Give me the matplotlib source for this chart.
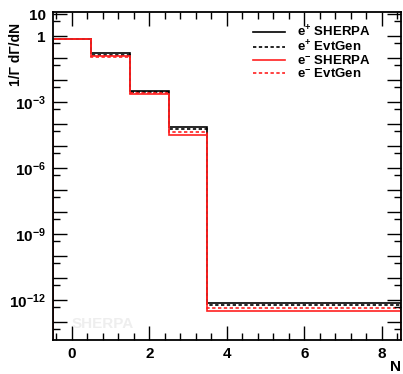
import numpy as np
import matplotlib; matplotlib.use("Agg")
import matplotlib.pyplot as plt
from matplotlib.ticker import FixedLocator, FixedFormatter, NullFormatter

plt.rcParams.update({"font.family": "Liberation Sans", "font.weight": "bold",
                     "mathtext.fontset": "custom",
                     "mathtext.rm": "Liberation Sans:bold",
                     "mathtext.bf": "Liberation Sans:bold",
                     "mathtext.it": "Liberation Sans:bold"})

edges = [-0.5, 0.5, 1.5, 2.5, 3.5, 4.5, 5.5, 6.5, 7.5, 8.5]
ep_sherpa = [0.78, 0.17, 3.3e-3, 7.2e-5, 7.6e-13, 7.6e-13, 7.6e-13, 7.6e-13, 7.6e-13]
ep_evtgen = [0.76, 0.14, 2.9e-3, 5.8e-5, 6.1e-13, 6.1e-13, 6.1e-13, 6.1e-13, 6.1e-13]
em_sherpa = [0.74, 0.12, 2.4e-3, 3.2e-5, 3.3e-13, 3.3e-13, 3.3e-13, 3.3e-13, 3.3e-13]
em_evtgen = [0.75, 0.11, 2.5e-3, 4.3e-5, 4.5e-13, 4.5e-13, 4.5e-13, 4.5e-13, 4.5e-13]
labels = [r"e$^{+}$ SHERPA", r"e$^{+}$ EvtGen", r"e$^{-}$ SHERPA", r"e$^{-}$ EvtGen"]

fig = plt.figure(figsize=(4.03, 3.74), dpi=100)
ax = fig.add_axes([52.5/403, 1-340/374, (401-52.5)/403, (340-12)/374])

ax.stairs(ep_sherpa, edges, color="black", lw=1.2, label=labels[0])
ax.stairs(ep_evtgen, edges, color="black", lw=1.2, ls=(0, (2, 1.5)), label=labels[1])
ax.stairs(em_sherpa, edges, color="#ff2020", lw=1.2, label=labels[2])
ax.stairs(em_evtgen, edges, color="#ff2020", lw=1.2, ls=(0, (2, 1.5)), label=labels[3])

ax.set_yscale("log")
ax.set_xlim(-0.5, 8.5)
ax.set_ylim(10**-13.8, 10**1.1)

dec = [10.0**k for k in range(-13, 2)]
ylab = {1: "10", 0: "1", -3: r"$10^{-3}$", -6: r"$10^{-6}$", -9: r"$10^{-9}$", -12: r"$10^{-12}$"}
ax.yaxis.set_major_locator(FixedLocator(dec))
ax.yaxis.set_major_formatter(FixedFormatter([ylab.get(k, "") for k in range(-13, 2)]))
ax.yaxis.set_minor_locator(FixedLocator([5*10.0**k for k in range(-14, 1)]))
ax.yaxis.set_minor_formatter(NullFormatter())

ax.set_xticks([0, 2, 4, 6, 8])
ax.set_xticks(np.arange(-0.4, 8.5, 0.4), minor=True)

ax.tick_params(which="both", direction="in", top=True, right=True, width=1.0,
               labelsize=11, pad=5)
ax.tick_params(which="major", length=10)
ax.tick_params(which="minor", length=5)
for sp in ax.spines.values():
    sp.set_linewidth(1.3)

ax.set_ylabel("1/Γ dΓ/dN", fontsize=10, fontweight="bold")
ax.yaxis.set_label_coords(-0.085, 0.87)
ax.set_xlabel("N", fontsize=11, fontweight="bold")
ax.xaxis.set_label_coords(0.985, -0.062)

ax.text(0.055, 0.037, "SHERPA", transform=ax.transAxes, color="#eeeeee",
        fontsize=11, fontweight="bold")

leg = ax.legend(loc="upper right", bbox_to_anchor=(0.947, 1.0), frameon=False,
                fontsize=9.5, handlelength=2.4, labelspacing=0.0, handletextpad=0.9)

fig.savefig("out.png", dpi=100)
